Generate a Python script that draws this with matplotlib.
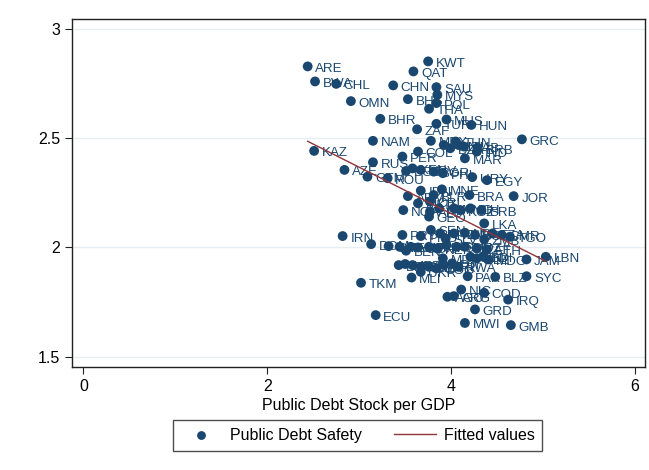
import numpy as np
import matplotlib.pyplot as plt

plt.rcParams['font.family'] = ['Liberation Sans', 'DejaVu Sans']

# country codes with debt stock (x) and safety score (y)
codes = ['ARE', 'BWA', 'CHL', 'OMN', 'CHN', 'KWT', 'QAT', 'SAU', 'MYS', 'BHS',
         'POL', 'THA', 'BHR', 'MUS', 'TUR', 'HUN', 'ZAF', 'GRC', 'NAM', 'MEX',
         'PAN', 'DZA', 'TUN', 'LTU', 'GAB', 'IND', 'BRB', 'KAZ', 'COL', 'PER',
         'MAR', 'RUS', 'AZE', 'BGD', 'KEN', 'HRV', 'BGR', 'PHL', 'URY', 'EGY',
         'GTM', 'ROU', 'IDN', 'MNE', 'ARM', 'BLR', 'BRA', 'JOR', 'MKD', 'CRI',
         'NGA', 'GEO', 'CIV', 'MNG', 'KGZ', 'BIH', 'SRB', 'ALB', 'LKA', 'IRN',
         'PRY', 'PNG', 'SEN', 'HND', 'SLV', 'KHM', 'NPL', 'BOL', 'ZMB', 'TZA',
         'CMR', 'TGO', 'DOM', 'GHA', 'YEM', 'BEN', 'LSO', 'UGA', 'TJK', 'NER',
         'HTI', 'SDN', 'MOZ', 'CAF', 'ETH', 'LBN', 'JAM', 'MDG', 'MDA', 'GIN',
         'SLE', 'BDI', 'RWA', 'BFA', 'MRT', 'TCD', 'GNB', 'LBR', 'COG', 'ERI',
         'DJI', 'UKR', 'MLI', 'PAK', 'BLZ', 'SYC', 'TKM', 'NIC', 'COD', 'IRQ',
         'AGO', 'ARG', 'GRD', 'ECU', 'MWI', 'GMB']

debt_stock = [2.44, 2.52, 2.75, 2.91, 3.37, 3.75, 3.59, 3.84, 3.85, 3.53,
              3.84, 3.76, 3.23, 3.95, 3.84, 4.22, 3.63, 4.77, 3.15, 3.78,
              3.92, 3.99, 4.05, 4.08, 4.14, 4.28, 4.29, 2.51, 3.64, 3.47,
              4.15, 3.15, 2.84, 3.51, 3.58, 3.67, 3.81, 3.91, 4.23, 4.39,
              3.09, 3.31, 3.67, 3.90, 3.53, 3.81, 4.20, 4.68, 3.64, 3.77,
              3.48, 3.76, 3.87, 4.03, 4.10, 4.21, 4.33, 3.77, 4.36, 2.82,
              3.47, 3.67, 3.78, 3.88, 3.94, 4.03, 4.15, 4.26, 4.36, 4.45,
              4.55, 4.64, 3.13, 3.32, 3.44, 3.51, 3.56, 3.64, 3.76, 3.85,
              3.95, 4.06, 4.15, 4.28, 4.39, 5.03, 4.82, 4.40, 3.91, 4.21,
              4.28, 4.35, 4.08, 3.43, 3.50, 3.58, 3.67, 3.76, 3.84, 3.92,
              4.01, 3.67, 3.57, 4.18, 4.48, 4.82, 3.02, 4.11, 4.36, 4.62,
              3.96, 4.03, 4.26, 3.18, 4.15, 4.65]

debt_safety = [2.829, 2.760, 2.749, 2.670, 2.742, 2.852, 2.806, 2.734, 2.699, 2.679,
               2.661, 2.635, 2.589, 2.586, 2.566, 2.561, 2.541, 2.495, 2.488, 2.488,
               2.469, 2.454, 2.485, 2.469, 2.462, 2.439, 2.454, 2.442, 2.439, 2.416,
               2.408, 2.390, 2.355, 2.350, 2.362, 2.355, 2.347, 2.340, 2.322, 2.308,
               2.324, 2.317, 2.260, 2.266, 2.235, 2.240, 2.240, 2.235, 2.202, 2.210,
               2.171, 2.141, 2.179, 2.179, 2.171, 2.179, 2.171, 2.164, 2.110, 2.052,
               2.057, 2.052, 2.080, 2.064, 2.041, 2.064, 2.067, 2.057, 2.037, 2.064,
               2.057, 2.049, 2.015, 2.006, 2.003, 1.985, 2.003, 2.000, 2.003, 1.995,
               2.011, 2.003, 2.003, 1.995, 1.991, 1.957, 1.945, 1.945, 1.950, 1.957,
               1.950, 1.960, 1.911, 1.919, 1.924, 1.919, 1.911, 1.911, 1.904, 1.919,
               1.927, 1.888, 1.862, 1.868, 1.865, 1.868, 1.838, 1.807, 1.792, 1.761,
               1.774, 1.777, 1.716, 1.690, 1.654, 1.644]

navy = '#1a476f'
maroon = '#90353b'

x = np.array(debt_stock)
y = np.array(debt_safety)

# linear fit over the observed range
slope, intercept = np.polyfit(x, y, 1)
xfit = np.array([x.min(), x.max()])
yfit = intercept + slope * xfit

fig = plt.figure(figsize=(6.49, 4.70), dpi=100)
ax = fig.add_axes([0.111, 0.219, 0.883, 0.741])

for yt in [1.5, 2, 2.5, 3]:
    ax.axhline(yt, color='#e6eef2', lw=1.0, zorder=0)

for c, xi, yi in zip(codes, x, y):
    ax.annotate(c, (xi, yi), xytext=(5.5, -1.8), textcoords='offset points',
                va='center', ha='left', fontsize=9.6, color=navy, zorder=2)

ax.scatter(x, y, s=50, color=navy, edgecolors='none', zorder=3,
           label='Public Debt Safety')
ax.plot(xfit, yfit, color=maroon, lw=1.0, zorder=4, label='Fitted values')

ax.set_xlim(-0.123, 6.11)
ax.set_ylim(1.452, 3.047)
ax.set_xticks([0, 2, 4, 6])
ax.set_yticks([1.5, 2, 2.5, 3])
ax.set_yticklabels(['1.5', '2', '2.5', '3'])
ax.tick_params(labelsize=11.5, length=5, width=0.8, color='#222222')
for sp in ax.spines.values():
    sp.set_color('#222222')
    sp.set_linewidth(1.0)
ax.set_xlabel('Public Debt Stock per GDP', fontsize=11.5, labelpad=3)

leg = fig.legend(loc='center', bbox_to_anchor=(0.551, 0.074), ncol=2,
                 fontsize=11.5, frameon=True, fancybox=False,
                 edgecolor='#222222', borderpad=0.5, columnspacing=2.0,
                 handlelength=2.6, handletextpad=0.5, markerscale=0.9,
                 borderaxespad=0.2)
leg.get_frame().set_linewidth(1.0)

fig.savefig('out.png', dpi=100)
